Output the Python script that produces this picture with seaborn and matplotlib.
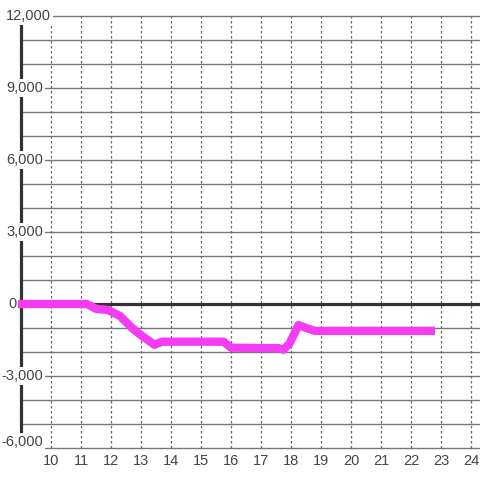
import numpy as np
import pandas as pd
import matplotlib
matplotlib.use("Agg")
import matplotlib.pyplot as plt
import seaborn as sns

# Series
hours = [8.9, 11.2, 11.5, 11.9, 12.3, 12.7, 13.0, 13.45, 13.7, 15.75, 16.0,
         17.6, 17.75, 17.95, 18.25, 18.55, 18.8, 22.8]
values = [0, 0, -200, -250, -500, -1000, -1300, -1700, -1570, -1570, -1820,
          -1840, -1900, -1650, -880, -1020, -1120, -1120]

x_ticks = list(range(10, 25))
y_ticks = [-6000, -3000, 0, 3000, 6000, 9000, 12000]
y_grid = list(range(-6000, 13000, 1000))

df = pd.DataFrame({"hour": hours, "value": values})

sns.set_style("white")
plt.rcParams["font.family"] = ["Liberation Sans", "DejaVu Sans"]

fig = plt.figure(figsize=(4.8, 4.8), dpi=100)
ax = fig.add_axes([0, 0, 1, 1])
x0 = 9 - 21 / 30
ax.set_xlim(x0, 9 + 459 / 30)
ax.set_ylim(-6000 - 32 / 24 * 1000, 12000 + 16 / 24 * 1000)
ax.axis("off")

# grid
ax.hlines(y_grid, 9, 24.5, color="#777777", lw=1, zorder=1)
ax.vlines(x_ticks, -6000, 12000, color="#666666", lw=0.9,
          linestyles=(0, (2, 2)), zorder=1)
# zero line and left axis
ax.hlines(0, 8.9, 24.5, color="#333333", lw=2.3, zorder=2)
ax.vlines(9, -6000, 12000, color="#333333", lw=2.3, zorder=2)

sns.lineplot(data=df, x="hour", y="value", ax=ax, color="#f43cf4",
             lw=6, zorder=3, solid_joinstyle="round",
             solid_capstyle="butt")

for v in y_ticks:
    y = v
    if v == 12000:
        x, ha = x0 + 6 / 30, "left"
    elif v == 0:
        x, ha = x0 + 8 / 30, "left"
    else:
        x, ha = x0 + 43 / 30, "right"
    if v == -6000:
        y = v + 250  # bottom label sits a bit above its line
    ax.text(x, y, f"{v:,}", ha=ha, va="center", fontsize=10.5,
            color="#444444", zorder=4,
            bbox=dict(facecolor="white", edgecolor="none", pad=1.2))
for h in x_ticks:
    ax.text(h, -6542, str(h), ha="center", va="center", fontsize=10.5,
            color="#444444", zorder=4)

fig.savefig("out.png", dpi=100)
